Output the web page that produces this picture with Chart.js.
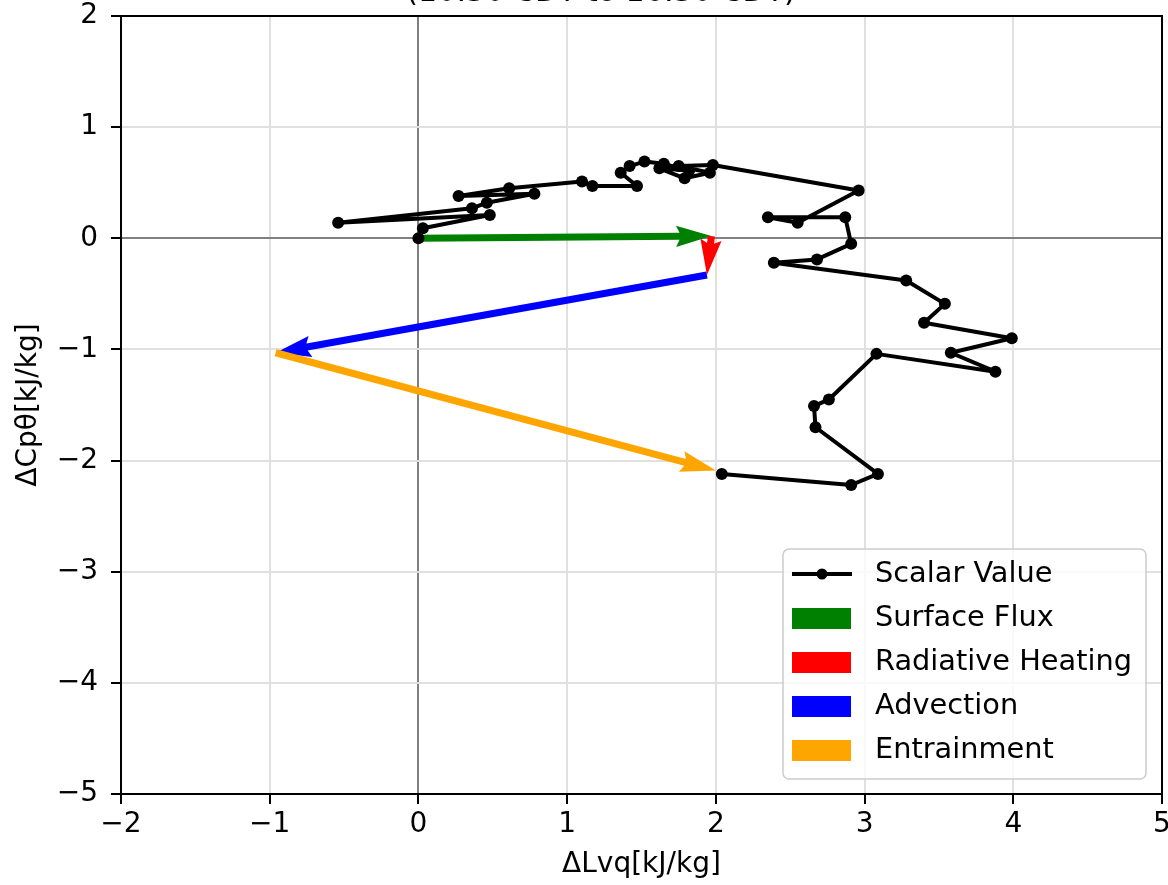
<!DOCTYPE html>
<html>
<head>
<meta charset="utf-8">
<script src="https://cdn.jsdelivr.net/npm/chart.js@4.4.1/dist/chart.umd.min.js"></script>
<style>
    html, body { margin: 0; padding: 0; background: #fff; }
    canvas { display: block; }
</style>
</head>
<body>
<canvas id="budgetChart" width="1168" height="885"></canvas>
<script>
// Quỹ đạo giá trị vô hướng (ΔLvq, ΔCpθ), kJ/kg
const scalarX = [0, 0.03, 0.48, -0.54, 0.36, 0.46, 0.78, 0.27, 0.61, 1.10, 1.17, 1.47, 1.36, 1.42, 1.52,
                 1.65, 1.82, 1.62, 1.79, 1.96, 1.75, 1.98, 2.96, 2.55, 2.35, 2.87, 2.91, 2.68, 2.39,
                 3.28, 3.54, 3.40, 3.99, 3.58, 3.88, 3.08, 2.76, 2.66, 2.67, 3.09, 2.91, 2.04];
const scalarY = [0, 0.09, 0.21, 0.14, 0.27, 0.32, 0.40, 0.38, 0.45, 0.51, 0.47, 0.47, 0.59, 0.65, 0.69,
                 0.67, 0.61, 0.63, 0.54, 0.59, 0.65, 0.66, 0.43, 0.14, 0.19, 0.19, -0.05, -0.19, -0.22,
                 -0.38, -0.59, -0.76, -0.90, -1.03, -1.20, -1.04, -1.45, -1.51, -1.70, -2.12, -2.22, -2.12];

// Các thành phần ngân sách, nối đầu-đuôi từ gốc tọa độ
const termLabels = ['Surface Flux', 'Radiative Heating', 'Advection', 'Entrainment'];
const termColors = ['#008000', '#ff0000', '#0000ff', '#ffa500'];
const termDx = [1.97, -0.03, -2.90, 2.96];
const termDy = [0.02, -0.35, -0.70, -1.06];

const xTicks = [-2, -1, 0, 1, 2, 3, 4, 5];
const yTicks = [-5, -4, -3, -2, -1, 0, 1, 2];

const titleText = '(10:30 CDT to 16:30 CDT)';
const FONT = 'DejaVu Sans';

const fmtTick = v => (v < 0 ? '\u2212' + Math.abs(v) : String(v));

// Mũi tên kiểu quiver: nối đầu-đuôi
let cx = 0, cy = 0;
const arrowSets = termLabels.map((label, i) => {
    const start = { x: cx, y: cy };
    cx += termDx[i];
    cy += termDy[i];
    return {
        label,
        arrow: true,
        data: [start, { x: cx, y: cy }],
        borderColor: termColors[i],
        backgroundColor: termColors[i],
        showLine: false,
        pointRadius: 0
    };
});

// Vẽ mũi tên bằng đa giác giống quiver (headwidth 3, headlength 5, headaxislength 4.5)
const quiverPlugin = {
    id: 'quiver',
    beforeDatasetsDraw(chart) {
        const { ctx, chartArea, scales } = chart;
        const w = 0.0068 * chartArea.width;
        chart.data.datasets.forEach(ds => {
            if (!ds.arrow) return;
            const [a, b] = ds.data;
            const x0 = scales.x.getPixelForValue(a.x), y0 = scales.y.getPixelForValue(a.y);
            const x1 = scales.x.getPixelForValue(b.x), y1 = scales.y.getPixelForValue(b.y);
            const len = Math.hypot(x1 - x0, y1 - y0);
            const ang = Math.atan2(y1 - y0, x1 - x0);
            let X, Y;
            if (len < 5 * w) {
                const s = len / 5;
                X = [0, 0.5 * s, 0, 5 * s];
                Y = [0.5 * s, 0.5 * s, 1.5 * s, 0];
            } else {
                X = [0, len - 4.5 * w, len - 5 * w, len];
                Y = [w / 2, w / 2, 1.5 * w, 0];
            }
            const pts = [[X[0], -Y[0]], [X[1], -Y[1]], [X[2], -Y[2]], [X[3], 0],
                         [X[2], Y[2]], [X[1], Y[1]], [X[0], Y[0]]];
            ctx.save();
            ctx.translate(x0, y0);
            ctx.rotate(ang);
            ctx.beginPath();
            pts.forEach(([px, py], k) => (k ? ctx.lineTo(px, py) : ctx.moveTo(px, py)));
            ctx.closePath();
            ctx.fillStyle = ds.borderColor;
            ctx.fill();
            ctx.restore();
        });
    }
};

// Khung trục đen bốn phía
const framePlugin = {
    id: 'frame',
    afterDatasetsDraw(chart) {
        const { ctx, chartArea: c } = chart;
        ctx.save();
        ctx.strokeStyle = '#000';
        ctx.lineWidth = 2;
        ctx.strokeRect(c.left, c.top, c.right - c.left, c.bottom - c.top);
        ctx.restore();
    }
};

// Chú giải đặt trong vùng vẽ, góc dưới phải
const boxLegend = {
    id: 'boxLegend',
    afterDraw(chart) {
        const { ctx, chartArea: c } = chart;
        const sets = chart.data.datasets;
        ctx.save();
        ctx.font = `28.8px "${FONT}"`;
        const textW = Math.max(...sets.map(d => ctx.measureText(d.label).width));
        const rowH = 44;
        const width = 9 + 59 + 24 + textW + 14;
        const height = 25 + rowH * (sets.length - 1) + 29;
        const right = c.right - 16;
        const bottom = c.bottom - 15;
        const left = right - width;
        const top = bottom - height;

        ctx.beginPath();
        ctx.roundRect(left, top, width, height, 6);
        ctx.fillStyle = 'rgba(255,255,255,0.8)';
        ctx.fill();
        ctx.strokeStyle = '#cccccc';
        ctx.lineWidth = 1.5;
        ctx.stroke();

        sets.forEach((d, i) => {
            const yc = top + 25 + i * rowH;
            const hx = left + 9;
            if (d.arrow) {
                ctx.fillStyle = d.borderColor;
                ctx.fillRect(hx, yc - 10, 59, 21);
            } else {
                ctx.strokeStyle = d.borderColor;
                ctx.lineWidth = 4;
                ctx.beginPath();
                ctx.moveTo(hx, yc);
                ctx.lineTo(hx + 60, yc);
                ctx.stroke();
                ctx.fillStyle = d.pointBackgroundColor;
                ctx.beginPath();
                ctx.arc(hx + 30, yc, 5.5, 0, Math.PI * 2);
                ctx.fill();
            }
            ctx.fillStyle = '#000';
            ctx.textBaseline = 'middle';
            ctx.textAlign = 'left';
            ctx.fillText(d.label, hx + 59 + 24, yc + 1);
        });
        ctx.restore();
    }
};

// Tiêu đề (dòng thứ hai) sát mép trên
const topTitle = {
    id: 'topTitle',
    afterDraw(chart) {
        const { ctx } = chart;
        ctx.save();
        ctx.font = `30px "${FONT}"`;
        ctx.fillStyle = '#000';
        ctx.textAlign = 'center';
        ctx.textBaseline = 'alphabetic';
        ctx.fillText(titleText, 601, 1);
        ctx.restore();
    }
};

const gridColor = c => (c.tick && c.tick.value === 0 ? '#808080' : '#e0e0e0');

const ctx = document.getElementById('budgetChart').getContext('2d');
new Chart(ctx, {
    type: 'scatter',
    data: {
        datasets: [
            {
                label: 'Scalar Value',
                data: scalarX.map((x, i) => ({ x, y: scalarY[i] })),
                showLine: true,
                borderColor: '#000',
                borderWidth: 4,
                borderJoinStyle: 'round',
                borderCapStyle: 'round',
                pointRadius: 6,
                pointBackgroundColor: '#000',
                pointBorderWidth: 0,
                tension: 0
            },
            ...arrowSets
        ]
    },
    options: {
        responsive: false,
        animation: false,
        events: [],
        layout: { padding: { top: 16, right: 5, left: 0, bottom: 0 } },
        plugins: {
            legend: { display: false },
            tooltip: { enabled: false }
        },
        scales: {
            x: {
                type: 'linear',
                min: xTicks[0],
                max: xTicks[xTicks.length - 1],
                afterBuildTicks: s => { s.ticks = xTicks.map(v => ({ value: v })); },
                afterFit: s => { s.height = 91; s.paddingLeft = 0; s.paddingRight = 0; },
                ticks: {
                    autoSkip: false,
                    maxRotation: 0,
                    padding: 4,
                    color: '#000',
                    font: { family: FONT, size: 28 },
                    callback: fmtTick
                },
                grid: {
                    color: gridColor,
                    lineWidth: 2,
                    tickLength: 10,
                    tickColor: '#000',
                    tickWidth: 2
                },
                border: { display: false },
                title: {
                    display: true,
                    text: 'ΔLvq[kJ/kg]',
                    color: '#000',
                    font: { family: FONT, size: 28 },
                    padding: { top: 0, bottom: 3 }
                }
            },
            y: {
                type: 'linear',
                min: yTicks[0],
                max: yTicks[yTicks.length - 1],
                afterBuildTicks: s => { s.ticks = yTicks.map(v => ({ value: v })); },
                afterFit: s => { s.width = 121; s.paddingTop = 0; s.paddingBottom = 0; },
                ticks: {
                    autoSkip: false,
                    padding: 13,
                    color: '#000',
                    font: { family: FONT, size: 28 },
                    callback: fmtTick
                },
                grid: {
                    color: gridColor,
                    lineWidth: 2,
                    tickLength: 10,
                    tickColor: '#000',
                    tickWidth: 2
                },
                border: { display: false },
                title: {
                    display: true,
                    text: 'ΔCpθ[kJ/kg]',
                    color: '#000',
                    font: { family: FONT, size: 28 },
                    padding: { top: 12, bottom: 0 }
                }
            }
        }
    },
    plugins: [quiverPlugin, framePlugin, boxLegend, topTitle]
});
</script>
</body>
</html>
